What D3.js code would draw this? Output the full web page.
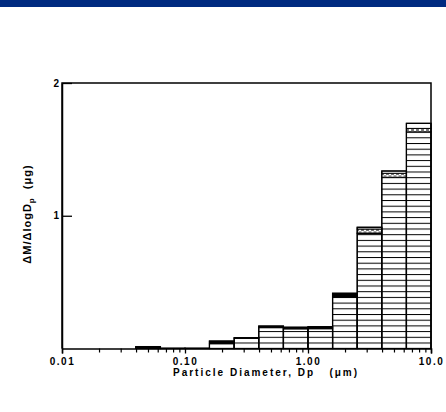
<!DOCTYPE html>
<html>
<head>
<meta charset="utf-8">
<script src="https://cdn.jsdelivr.net/npm/d3@7"></script>
<style>
	body { margin: 0; background: #fff; }
	svg { display: block; font-family: "Liberation Sans", Arial, sans-serif; }
</style>
</head>
<body>
<div id="svg-container"></div>
<script>




// DATA
// bin edges, particle diameter (um), 0.2 decade wide
const binEdges = [0.0398, 0.0631, 0.100, 0.158, 0.251, 0.398, 0.631, 1.00, 1.585, 2.512, 3.981, 6.310, 10.0];
// stacked components per bin (ug), bottom to top
const linesPart = [0.008, 0.002, 0.002, 0.036, 0.077, 0.157, 0.148, 0.149, 0.386, 0.865, 1.290, 1.632];
const blackPart = [0.006, 0.000, 0.000, 0.020, 0.004, 0.012, 0.012, 0.015, 0.030, 0.005, 0.000, 0.000];
const crossPart = [0.000, 0.000, 0.000, 0.000, 0.000, 0.000, 0.000, 0.000, 0.000, 0.030, 0.030, 0.026];
const whitePart = [0.000, 0.000, 0.000, 0.000, 0.000, 0.000, 0.000, 0.000, 0.000, 0.013, 0.017, 0.038];
// axes
const xMajorTicks = [0.01, 0.1, 1, 10];
const xTickLabels = ['0.01', '0.10', '1.00', '10.0'];
const xMinorTicks = [0.02, 0.03, 0.04, 0.05, 0.06, 0.07, 0.08, 0.09,
	0.2, 0.3, 0.4, 0.5, 0.6, 0.7, 0.8, 0.9,
	2, 3, 4, 5, 6, 7, 8, 9];
const yTicks = [1, 2];
const yTickLabels = ['1', '2'];




function drawChart() {
	const w = 446;
	const h = 412;
	const left = 62, right = 431, top = 83, bottom = 348.5;

	const svg = d3.select('#svg-container').append('svg')
		.attr('width', w)
		.attr('height', h);

	// header band
	svg.append('rect')
		.attr('x', 0).attr('y', 0)
		.attr('width', w).attr('height', 7)
		.attr('fill', '#002a80');

	// fill patterns
	const defs = svg.append('defs');
	const lines = defs.append('pattern')
		.attr('id', 'hlines')
		.attr('patternUnits', 'userSpaceOnUse')
		.attr('width', 10).attr('height', 5.7)
		.attr('y', 0.5);
	lines.append('rect').attr('width', 10).attr('height', 5.7).attr('fill', '#fff');
	lines.append('line')
		.attr('x1', 0).attr('x2', 10)
		.attr('y1', 0.5).attr('y2', 0.5)
		.attr('stroke', '#000').attr('stroke-width', 1);
	const cross = defs.append('pattern')
		.attr('id', 'xcross')
		.attr('patternUnits', 'userSpaceOnUse')
		.attr('width', 5).attr('height', 4);
	cross.append('rect').attr('width', 5).attr('height', 4).attr('fill', '#fff');
	cross.append('path')
		.attr('d', 'M0.5,0.5L4.5,3.5M4.5,0.5L0.5,3.5')
		.attr('stroke', '#222').attr('stroke-width', 0.8);

	// scales
	const xScale = d3.scaleLog().domain([0.01, 10]).range([left, right]);
	const yScale = d3.scaleLinear().domain([0, 2]).range([bottom, top]);

	// stacked data
	const keys = ['lines', 'black', 'cross', 'white'];
	const fills = { lines: 'url(#hlines)', black: '#000', cross: 'url(#xcross)', white: '#fff' };
	const rows = linesPart.map((v, i) => ({
		x0: binEdges[i], x1: binEdges[i + 1],
		lines: v, black: blackPart[i], cross: crossPart[i], white: whitePart[i]
	}));
	const series = d3.stack().keys(keys)(rows);

	series.forEach(s => {
		svg.append('g')
			.selectAll('rect')
			.data(s.filter(d => d[1] - d[0] > 0))
			.enter()
			.append('rect')
			.attr('x', d => xScale(d.data.x0))
			.attr('width', d => xScale(d.data.x1) - xScale(d.data.x0))
			.attr('y', d => yScale(d[1]))
			.attr('height', d => yScale(d[0]) - yScale(d[1]))
			.attr('fill', fills[s.key])
			.attr('stroke', '#000')
			.attr('stroke-width', 1);
	});

	// bar outlines
	svg.append('g')
		.selectAll('rect')
		.data(rows)
		.enter()
		.append('rect')
		.attr('x', d => xScale(d.x0))
		.attr('width', d => xScale(d.x1) - xScale(d.x0))
		.attr('y', d => yScale(d.lines + d.black + d.cross + d.white))
		.attr('height', d => bottom - yScale(d.lines + d.black + d.cross + d.white))
		.attr('fill', 'none')
		.attr('stroke', '#000')
		.attr('stroke-width', 1.3);

	// frame
	svg.append('path')
		.attr('d', `M${left},${bottom}V${top}H${right}V${bottom}`)
		.attr('fill', 'none')
		.attr('stroke', '#000')
		.attr('stroke-width', 1.5);

	// x axis
	const xMinor = d3.axisBottom(xScale).tickValues(xMinorTicks).tickSize(4).tickFormat('');
	svg.append('g')
		.attr('transform', `translate(0, ${bottom})`)
		.call(xMinor)
		.call(g => g.select('.domain').remove())
		.call(g => g.selectAll('line').attr('stroke-width', 1.2));
	const xAxis = d3.axisBottom(xScale)
		.tickValues(xMajorTicks)
		.tickSize(5)
		.tickPadding(4)
		.tickFormat((d, i) => xTickLabels[i]);
	svg.append('g')
		.attr('id', 'x-axis')
		.attr('transform', `translate(0, ${bottom})`)
		.call(xAxis)
		.call(g => g.select('.domain').attr('stroke-width', 1.5))
		.call(g => g.selectAll('line').attr('stroke-width', 1.3))
		.call(g => g.selectAll('text')
			.attr('font-size', 10)
			.attr('font-weight', 'bold')
			.attr('letter-spacing', '1.5px')
			.attr('font-family', '"Liberation Sans", Arial, sans-serif'));

	// y axis
	const yAxis = d3.axisLeft(yScale)
		.tickValues(yTicks)
		.tickSizeInner(-10)
		.tickSizeOuter(0)
		.tickPadding(3)
		.tickFormat((d, i) => yTickLabels[i]);
	svg.append('g')
		.attr('id', 'y-axis')
		.attr('transform', `translate(${left}, 0)`)
		.call(yAxis)
		.call(g => g.select('.domain').attr('stroke-width', 1.5))
		.call(g => g.selectAll('line').attr('stroke-width', 1.3))
		.call(g => g.selectAll('text')
			.attr('font-size', 10)
			.attr('font-weight', 'bold')
			.attr('font-family', '"Liberation Sans", Arial, sans-serif'));

	// axis titles
	svg.append('text')
		.attr('x', 173)
		.attr('y', 375.5)
		.attr('font-size', 10)
		.attr('font-weight', 'bold')
		.attr('letter-spacing', '2px')
		.style('white-space', 'pre')
		.text('Particle Diameter, Dp   (μm)');

	const yTitle = svg.append('text')
		.attr('transform', 'translate(31, 214) rotate(-90)')
		.attr('text-anchor', 'middle')
		.attr('font-size', 11)
		.attr('font-weight', 'bold')
		.attr('letter-spacing', '1px')
		.style('white-space', 'pre');
	yTitle.append('tspan').text('ΔM/ΔlogD');
	yTitle.append('tspan').attr('font-size', 8).attr('dy', 3).text('p');
	yTitle.append('tspan').attr('dy', -3).text('  (μg)');
}




document.addEventListener('DOMContentLoaded', () => {
	drawChart();
});
</script>
</body>
</html>
